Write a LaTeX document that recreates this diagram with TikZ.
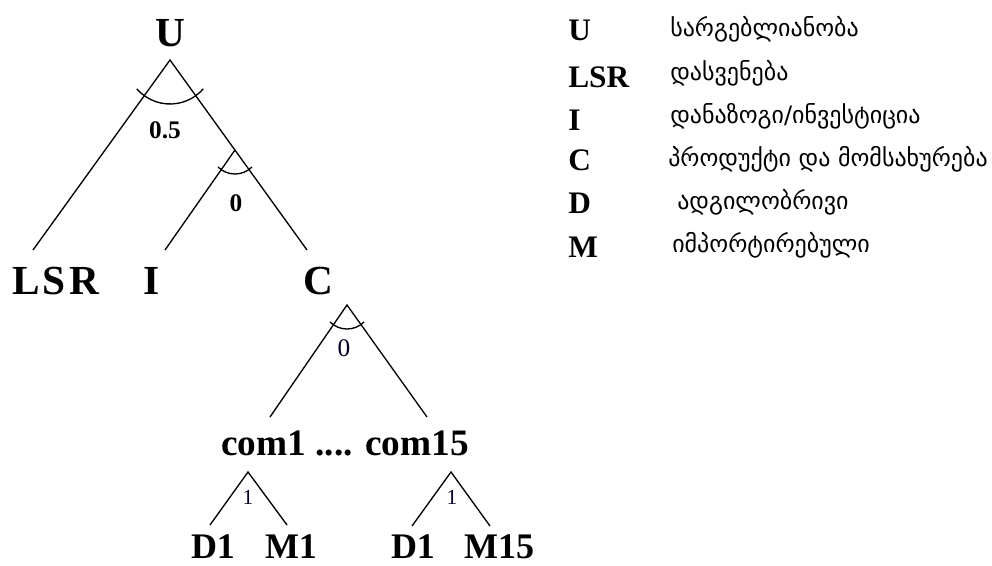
\documentclass[tikz,border=0pt]{standalone}
\usepackage{fontspec}
\setmainfont{Liberation Serif}
\newfontfamily\geofont{DejaVu Sans}
\begin{document}
\begin{tikzpicture}[x=0.75pt,y=0.75pt,
  big/.style={font=\bfseries\fontsize{31}{36}\selectfont, inner sep=0pt, anchor=base},
  mid/.style={font=\bfseries\fontsize{28}{32}\selectfont, inner sep=0pt, anchor=base},
  low/.style={font=\bfseries\fontsize{27}{32}\selectfont, inner sep=0pt, anchor=base},
  legkey/.style={font=\bfseries\fontsize{23.5}{28}\selectfont, inner sep=0pt, anchor=base west},
  legtxt/.style={font=\geofont\fontsize{18}{22}\selectfont, inner sep=0pt, anchor=base west},
  wbold/.style={font=\bfseries\fontsize{19}{22}\selectfont, inner sep=0pt},
  wreg/.style={font=\fontsize{19}{22}\selectfont, inner sep=0pt, text=black!85!blue},
  wsmall/.style={font=\fontsize{16}{19}\selectfont, inner sep=0pt, text=black!85!blue},
  edge/.style={line width=1pt, black},
  wedge/.style={line width=1pt, black}
]
\useasboundingbox (0,0) rectangle (992,-565);

% ---- tree labels
\node[big] (U) at (170,-46) {U};
\node[big] (LSR) at (56,-294) {L\kern2pt S\kern3pt R};
\node[big] (I) at (152,-294) {I};
\node[big] (C) at (318,-294) {C};
\node[mid] (com) at (345,-455) {com1 .... com15};
\node[low] (D1a) at (213,-558) {D1};
\node[low] (M1) at (291,-558) {M1};
\node[low] (D1b) at (413,-558) {D1};
\node[low] (M15) at (499,-558) {M15};

% ---- branch points
\coordinate (aU) at (170,-60);
\coordinate (eLSR) at (33,-250);
\coordinate (eC) at (307,-250);
\coordinate (aIC) at (235,-150);
\coordinate (eI) at (165,-250);
\coordinate (aC) at (347,-305);
\coordinate (eC1) at (270,-417);
\coordinate (eC15) at (427,-417);
\coordinate (a1) at (248,-472);
\coordinate (e1D) at (210,-525);
\coordinate (e1M) at (287,-525);
\coordinate (a15) at (451,-472);
\coordinate (e15D) at (412,-526);
\coordinate (e15M) at (490,-526);

\draw[edge] (eLSR) -- (aU) -- (eC);
\draw[edge] (aIC) -- (eI);
\draw[edge] (eC1) -- (aC) -- (eC15);
\draw[edge] (e1D) -- (a1) -- (e1M);
\draw[edge] (e15D) -- (a15) -- (e15M);

% ---- elasticity arcs
\draw[wedge] (aU) ++(221:33pt) arc[start angle=221, end angle=319, radius=33pt];
\draw[wedge] (aIC) ++(225:18pt) arc[start angle=225, end angle=315, radius=18pt];
\draw[wedge] (aC) ++(225:18pt) arc[start angle=225, end angle=315, radius=18pt];

% ---- elasticity values
\node[wbold] (w05) at (165,-130) {0.5};
\node[wbold] (w0a) at (236,-203) {0};
\node[wreg] (w0b) at (344,-348) {0};
\node[wsmall] (w1a) at (248,-497) {1};
\node[wsmall] (w1b) at (452,-497) {1};

% ---- legend
\node[legkey] (kU) at (568,-40) {U};
\node[legkey] (kLSR) at (568,-87) {LSR};
\node[legkey] (kI) at (568,-130) {I};
\node[legkey] (kC) at (568,-170) {C};
\node[legkey] (kD) at (568,-213) {D};
\node[legkey] (kM) at (568,-257) {M};

\node[legtxt] (tU) at (670,-36) {სარგებლიანობა};
\node[legtxt] (tLSR) at (670,-80) {დასვენება};
\node[legtxt] (tI) at (670,-123) {დანაზოგი/ინვესტიცია};
\node[legtxt] (tC) at (668,-166) {პროდუქტი და მომსახურება};
\node[legtxt] (tD) at (677,-209) {ადგილობრივი};
\node[legtxt] (tM) at (672,-252) {იმპორტირებული};
\end{tikzpicture}
\end{document}
